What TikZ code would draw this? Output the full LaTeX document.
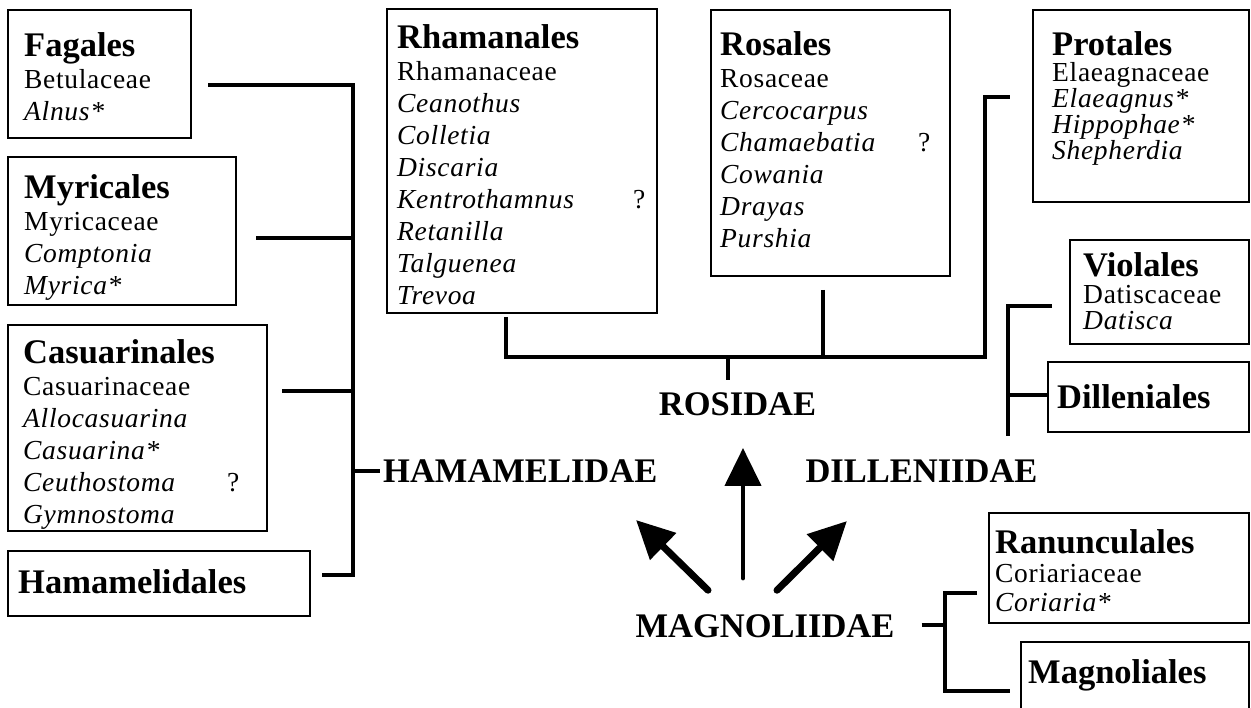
\documentclass[tikz,border=0pt]{standalone}
\usepackage{fontspec}
\setmainfont{Liberation Serif}
\usetikzlibrary{arrows.meta}

\tikzset{
  taxbox/.style={draw, line width=1.2pt, inner sep=0pt, outer sep=0pt, anchor=north west},
  taxtext/.style={anchor=north west, align=left, inner sep=0pt,
    font=\fontsize{27.5}{32}\selectfont\addfontfeature{LetterSpace=2.5}},
  subclass/.style={inner sep=0pt, font=\fontsize{34.5}{36}\selectfont\bfseries},
  link/.style={line width=4.5pt},
  evol/.style={line width=7pt, line cap=round, -{Triangle[length=38pt,width=36pt]}},
}
\newcommand{\ordo}[1]{{\normalfont\fontsize{34.5}{36}\selectfont\bfseries #1}}
\newcommand{\unsure}[2]{\makebox[#1][l]{\itshape #2}?}

\begin{document}
\begin{tikzpicture}[x=1pt, y=-1pt]
      \useasboundingbox (0,0) rectangle (1251,708);
      \clip (0,0) rectangle (1251,708);
      % left column: hamamelidae
      \node[taxbox, minimum width=183, minimum height=128] (fagales) at (8,10) {};
      \node[taxtext] (fagales-t) at ([shift={(16,22)}]fagales.north west)
            {\ordo{Fagales}\\ Betulaceae\\ \textit{Alnus*}};
      \node[taxbox, minimum width=228, minimum height=148] (myricales) at (8,157) {};
      \node[taxtext] (myricales-t) at ([shift={(16,17)}]myricales.north west)
            {\ordo{Myricales}\\ Myricaceae\\ \textit{Comptonia}\\ \textit{Myrica*}};
      \node[taxbox, minimum width=259, minimum height=206] (casuarinales) at (8,325) {};
      \node[taxtext] (casuarinales-t) at ([shift={(15,14)}]casuarinales.north west)
            {\ordo{Casuarinales}\\ Casuarinaceae\\ \textit{Allocasuarina}\\ \textit{Casuarina*}\\
             \unsure{204pt}{Ceuthostoma}\\ \textit{Gymnostoma}};
      \node[taxbox, minimum width=302, minimum height=65] (hamamelidales) at (8,551) {};
      \node[taxtext] (hamamelidales-t) at ([shift={(10,18)}]hamamelidales.north west)
            {\ordo{Hamamelidales}};
      % top row: rosidae
      \node[taxbox, minimum width=270, minimum height=304] (rhamanales) at (387,9) {};
      \node[taxtext] (rhamanales-t) at ([shift={(10,15)}]rhamanales.north west)
            {\ordo{Rhamanales}\\ Rhamanaceae\\ \textit{Ceanothus}\\ \textit{Colletia}\\ \textit{Discaria}\\
             \unsure{236pt}{Kentrothamnus}\\ \textit{Retanilla}\\ \textit{Talguenea}\\ \textit{Trevoa}};
      \node[taxbox, minimum width=239, minimum height=266] (rosales) at (711,10) {};
      \node[taxtext] (rosales-t) at ([shift={(9,21)}]rosales.north west)
            {\ordo{Rosales}\\ Rosaceae\\ \textit{Cercocarpus}\\ \unsure{198pt}{Chamaebatia}\\
             \textit{Cowania}\\ \textit{Drayas}\\ \textit{Purshia}};
      \node[taxbox, minimum width=216, minimum height=192] (protales) at (1033,10) {};
      \node[taxtext, font=\fontsize{27.5}{26}\selectfont\addfontfeature{LetterSpace=2.5}] (protales-t)
            at ([shift={(19,21)}]protales.north west)
            {\ordo{Protales}\\ Elaeagnaceae\\ \textit{Elaeagnus*}\\ \textit{Hippophae*}\\ \textit{Shepherdia}};
      % right column: dilleniidae
      \node[taxbox, minimum width=179, minimum height=104] (violales) at (1070,240) {};
      \node[taxtext, font=\fontsize{27.5}{25.5}\selectfont\addfontfeature{LetterSpace=2.5}] (violales-t)
            at ([shift={(13,12)}]violales.north west)
            {\ordo{Violales}\\[2pt] Datiscaceae\\ \textit{Datisca}};
      \node[taxbox, minimum width=201, minimum height=70] (dilleniales) at (1048,362) {};
      \node[taxtext] (dilleniales-t) at ([shift={(9,22)}]dilleniales.north west)
            {\ordo{Dilleniales}};
      % bottom right: magnoliidae
      \node[taxbox, minimum width=260, minimum height=110] (ranunculales) at (989,513) {};
      \node[taxtext, font=\fontsize{27.5}{29}\selectfont\addfontfeature{LetterSpace=2.5}] (ranunculales-t)
            at ([shift={(6,16)}]ranunculales.north west)
            {\ordo{Ranunculales}\\ Coriariaceae\\ \textit{Coriaria*}};
      \node[taxbox, minimum width=228, minimum height=80] (magnoliales) at (1021,642) {};
      \node[taxtext] (magnoliales-t) at ([shift={(7,17)}]magnoliales.north west)
            {\ordo{Magnoliales}};
      % subclasses
      \node[subclass, anchor=west] (hamamelidae) at (383,471) {HAMAMELIDAE};
      \node[subclass] (rosidae) at (737.5,404) {ROSIDAE};
      \node[subclass] (dilleniidae) at (921.5,471) {DILLENIIDAE};
      \node[subclass] (magnoliidae) at (765,626) {MAGNOLIIDAE};
      % brackets
      \coordinate (hamj) at (353,575);
      \draw[link] ([shift={(17,11)}]fagales.east) -| (hamj) -- ([shift={(12,-8.5)}]hamamelidales.east);
      \draw[link] ([shift={(20,7)}]myricales.east) coordinate (m) -- (m -| hamj);
      \draw[link] ([shift={(15,-37)}]casuarinales.east) coordinate (c) -- (c -| hamj);
      \draw[link] (hamamelidae.west -| hamj) -- ([shift={(-3,0)}]hamamelidae.west);
      \coordinate (rosj) at (728,357);
      \coordinate (protj) at (985,357);
      \draw[link] ([shift={(-16,4)}]rhamanales.south) |- (protj) |- ([shift={(-23,-9)}]protales.west);
      \draw[link] ([shift={(-7.5,14)}]rosales.south) coordinate (r) -- (r |- rosj);
      \draw[link] (rosj) -- ([shift={(-9.5,-12)}]rosidae.north);
      \coordinate (dillj) at (1008,436);
      \draw[link] ([shift={(-18,14)}]violales.west) -| (dillj);
      \draw[link] ([shift={(0,-2)}]dilleniales.west) coordinate (d) -- (d -| dillj);
      \coordinate (magj) at (945,691);
      \draw[link] ([shift={(-12,25)}]ranunculales.west) -| (magj) -- ([shift={(-11,9)}]magnoliales.west);
      \draw[link] ([shift={(27,-1)}]magnoliidae.east) coordinate (g) -- (g -| magj);
      % arrows out of magnoliidae
      \coordinate (tipL) at (636,520);
      \coordinate (tipM) at (743,448);
      \coordinate (tipR) at (847,521);
      \draw[evol] ([shift={(-57,-24)}]magnoliidae.north) -- (tipL);
      \draw[evol, line width=4.5pt] ([shift={(-22,-36)}]magnoliidae.north) -- (tipM);
      \draw[evol] ([shift={(12,-24)}]magnoliidae.north) -- (tipR);
\end{tikzpicture}
\end{document}
